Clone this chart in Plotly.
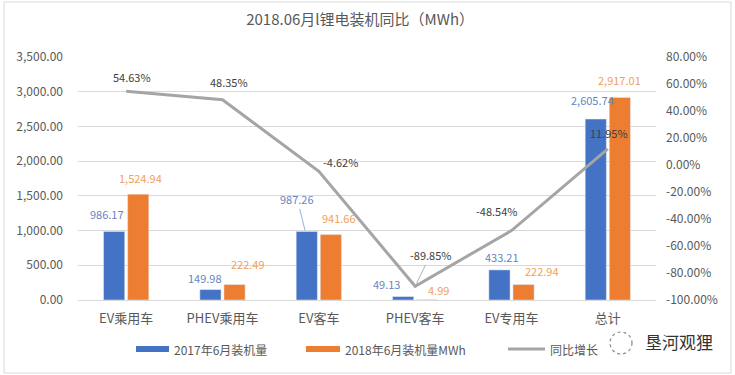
import plotly.graph_objects as go

categories = ["EV乘用车", "PHEV乘用车", "EV客车", "PHEV客车", "EV专用车", "总计"]
v2017 = [986.17, 149.98, 987.26, 49.13, 433.21, 2605.74]
v2018 = [1524.94, 222.49, 941.66, 4.99, 222.94, 2917.01]
growth = [54.63, 48.35, -4.62, -89.85, -48.54, 11.95]
left_ticks = [0, 500, 1000, 1500, 2000, 2500, 3000, 3500]
right_ticks = [-100, -80, -60, -40, -20, 0, 20, 40, 60, 80]

series_names = ["2017年6月装机量", "2018年6月装机量MWh", "同比增长"]

BLUE = "#4472c4"
ORANGE = "#ed7d31"
GRAY = "#a5a5a5"
FONT = "Noto Sans CJK SC"

# layout geometry (pixels)
FW, FH = 735, 375
L, R, T, B = 78, 656, 57, 300
PW, PH = R - L, B - T


def px(x):
    return (x - L) / PW


def py(y):
    return (B - y) / PH


# label pixel offsets (dx from category centre, dy above mark)
off17 = [(-19, 18), (-18, 12), None, (-29, 13), (-10, 13), (-15, 19)]
off18 = [(14, 16), (25, 21), (20, 17), (23, 10), (30, 14), (12, 17)]
offg = [(6, 14), (6, 18), (22, 9), None, (-15, 20), (1, 16)]

fig = go.Figure()
fig.add_trace(go.Bar(x=categories, y=v2017, name=series_names[0],
                     marker_color=BLUE, showlegend=False, hoverinfo="skip"))
fig.add_trace(go.Bar(x=categories, y=v2018, name=series_names[1],
                     marker_color=ORANGE, showlegend=False, hoverinfo="skip"))
fig.add_trace(go.Scatter(x=categories, y=growth, name=series_names[2], yaxis="y2",
                         mode="lines", line=dict(color=GRAY, width=3),
                         showlegend=False, hoverinfo="skip"))

ann = []
lab_font = dict(family=FONT, size=11)
for i, c in enumerate(categories):
    o = off17[i]
    txt = f"{v2017[i]:,.2f}"
    if o is None:
        ann.append(dict(x=c, y=v2017[i], xref="x", yref="y", text=txt, xshift=-13.5,
                        showarrow=True, arrowhead=0, arrowwidth=0.8, arrowcolor="#7f9bd0",
                        ax=-8, ay=-32, standoff=1,
                        font=dict(lab_font, color="#6585c2")))
    else:
        ann.append(dict(x=c, y=v2017[i], xref="x", yref="y", text=txt,
                        xshift=o[0], yshift=o[1], showarrow=False,
                        font=dict(lab_font, color="#6585c2")))
    o = off18[i]
    ann.append(dict(x=c, y=v2018[i], xref="x", yref="y", text=f"{v2018[i]:,.2f}",
                    xshift=o[0], yshift=o[1], showarrow=False,
                    font=dict(lab_font, color="#f0a05a")))
    o = offg[i]
    txt = f"{growth[i]:.2f}%"
    if o is None:
        ann.append(dict(x=c, y=growth[i], xref="x", yref="y2", text=txt,
                        showarrow=True, arrowhead=0, arrowwidth=0.8, arrowcolor="#a0a0a0",
                        ax=15, ay=-31, standoff=3,
                        font=dict(lab_font, color="#404040")))
    else:
        ann.append(dict(x=c, y=growth[i], xref="x", yref="y2", text=txt,
                        xshift=o[0], yshift=o[1], showarrow=False,
                        font=dict(lab_font, color="#404040")))

# manual legend
shapes = []
leg_y = 349
leg_font = dict(family=FONT, size=12, color="#595959")
shapes.append(dict(type="rect", xref="paper", yref="paper", x0=px(136), x1=px(169),
                   y0=py(leg_y - 3), y1=py(leg_y + 3), fillcolor=BLUE, line_width=0))
ann.append(dict(x=px(172), y=py(leg_y), xref="paper", yref="paper", text=series_names[0],
                xanchor="left", yanchor="middle", showarrow=False, font=leg_font))
shapes.append(dict(type="rect", xref="paper", yref="paper", x0=px(306), x1=px(340),
                   y0=py(leg_y - 3), y1=py(leg_y + 3), fillcolor=ORANGE, line_width=0))
ann.append(dict(x=px(343), y=py(leg_y), xref="paper", yref="paper", text=series_names[1],
                xanchor="left", yanchor="middle", showarrow=False, font=leg_font))
shapes.append(dict(type="line", xref="paper", yref="paper", x0=px(508), x1=px(545),
                   y0=py(leg_y), y1=py(leg_y), line=dict(color=GRAY, width=3)))
ann.append(dict(x=px(548), y=py(leg_y), xref="paper", yref="paper", text=series_names[2],
                xanchor="left", yanchor="middle", showarrow=False, font=leg_font))

# watermark
shapes.append(dict(type="circle", xref="paper", yref="paper", x0=px(610), x1=px(632),
                   y0=py(354), y1=py(332), line=dict(color="#888888", width=1.2, dash="dot")))
ann.append(dict(x=px(643), y=py(342), xref="paper", yref="paper", text="垦河观狸",
                xanchor="left", yanchor="middle", showarrow=False,
                font=dict(family=FONT, size=17, color="#333333")))

# border
shapes.append(dict(type="rect", xref="paper", yref="paper", x0=px(4), x1=px(731),
                   y0=py(373), y1=py(2), line=dict(color="#d9d9d9", width=1),
                   fillcolor="rgba(0,0,0,0)", layer="below"))

fig.update_layout(
    width=FW, height=FH,
    margin=dict(l=L, r=FW - R, t=T, b=FH - B),
    paper_bgcolor="white", plot_bgcolor="white",
    barmode="group", bargap=0.5, bargroupgap=0.12,
    title=dict(text="2018.06月l锂电装机同比（MWh）", x=0.49, xanchor="center",
               y=1 - 20 / FH, yanchor="middle",
               font=dict(family=FONT, size=15, color="#595959")),
    font=dict(family=FONT, size=12, color="#595959"),
    xaxis=dict(type="category", showline=True, linecolor="#d9d9d9", linewidth=1,
               showgrid=False, ticks="", ticklabelstandoff=6,
               tickfont=dict(family=FONT, size=13, color="#595959")),
    yaxis=dict(range=[0, 3500], tickvals=left_ticks, tickformat=",.2f",
               showgrid=True, gridcolor="#d9d9d9", gridwidth=1, zeroline=False,
               showline=False, ticklabelstandoff=14,
               tickfont=dict(family=FONT, size=12, color="#595959")),
    yaxis2=dict(range=[-100, 80], tickvals=right_ticks, ticktext=[f"{t:.2f}%" for t in right_ticks],
                overlaying="y", side="right", showgrid=False, zeroline=False,
                showline=False, ticklabelstandoff=9,
                tickfont=dict(family=FONT, size=12, color="#595959")),
    annotations=ann, shapes=shapes, showlegend=False,
)

fig.write_html("out.html")
